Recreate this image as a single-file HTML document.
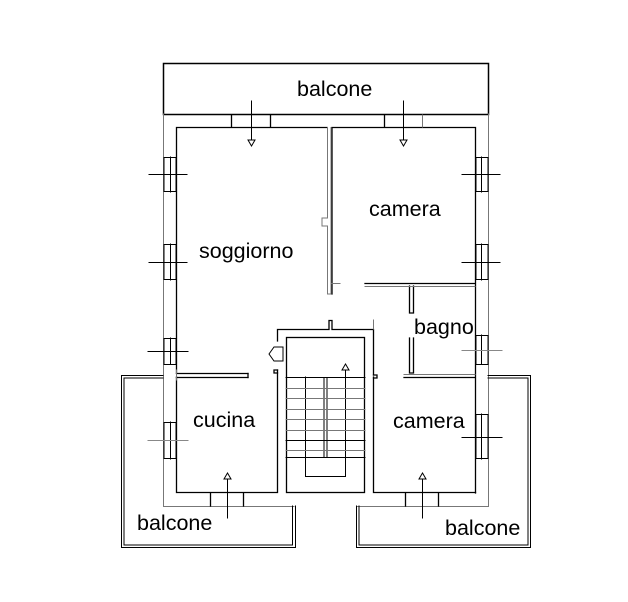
<!DOCTYPE html>
<html><head><meta charset="utf-8"><style>
html,body{margin:0;padding:0;background:#fff;width:628px;height:602px;overflow:hidden}
svg{display:block}
text{font-family:"Liberation Sans",sans-serif;font-size:21.5px;fill:#000}
</style></head><body>
<svg width="628" height="602" viewBox="0 0 628 602" xmlns="http://www.w3.org/2000/svg">
<g fill="none" stroke-linecap="square">
<rect x="163.5" y="63.5" width="325" height="51" stroke="#000" stroke-width="1.5"/>
<g stroke="#777" stroke-width="1">
<line x1="163.5" y1="114" x2="163.5" y2="506"/>
<line x1="488.5" y1="114" x2="488.5" y2="506"/>
<line x1="163.5" y1="506.5" x2="294" y2="506.5"/>
<line x1="357" y1="506.5" x2="488.5" y2="506.5"/>
</g>
<g stroke="#000" stroke-width="1.3">
<polyline points="327,127.5 176.5,127.5 176.5,373"/>
<polyline points="332,294 332,127.5 475.5,127.5 475.5,493"/>
<line x1="365" y1="283.5" x2="475" y2="283.5"/>
<line x1="404" y1="377.5" x2="475" y2="377.5"/>
<polyline points="176.5,377 176.5,492.5 277.5,492.5 277.5,370"/>
<polyline points="373.5,377 373.5,492.5 475.5,492.5"/>
<line x1="176.5" y1="373.5" x2="248" y2="373.5"/>
<line x1="176.5" y1="377.5" x2="248" y2="377.5"/>
<line x1="248" y1="373.5" x2="248" y2="377.5"/>
<rect x="286.5" y="337.5" width="78" height="155"/>
<polyline points="277.5,341 277.5,329.5 329,329.5 329,320.5 332,320.5 332,329.5 373.5,329.5 373.5,375"/>
<polyline points="373.5,375 377,375 377,378 373.5,378"/>
<polyline points="277.5,370 274,370 274,373 277.5,373"/>
<polyline points="409.5,286 409.5,313 413.5,313 413.5,286"/>
<polyline points="409.5,338 409.5,373 413.5,373 413.5,338"/>
<line x1="231.5" y1="115" x2="231.5" y2="127"/><line x1="270.5" y1="115" x2="270.5" y2="127"/>
<line x1="384.5" y1="115" x2="384.5" y2="127"/>
<line x1="210.5" y1="493" x2="210.5" y2="506"/><line x1="243.5" y1="493" x2="243.5" y2="506"/>
<line x1="405.5" y1="493" x2="405.5" y2="506"/><line x1="438.5" y1="493" x2="438.5" y2="506"/>
</g>
<g stroke="#777" stroke-width="1">
<line x1="422.5" y1="115" x2="422.5" y2="127"/>
<polyline points="327.5,127.5 327.5,218 322,218 322,226 327.5,226 327.5,294 331,294 331,283.5 340,283.5"/>
<line x1="331" y1="127.5" x2="331" y2="283"/>
<line x1="365" y1="286.5" x2="475" y2="286.5"/>
<line x1="404" y1="374.5" x2="475" y2="374.5"/>
<line x1="176.5" y1="370" x2="176.5" y2="380"/>
<line x1="373.5" y1="320" x2="373.5" y2="329"/>
</g>
<g stroke="#000" stroke-width="1">
<rect x="164" y="157.5" width="12" height="34"/><line x1="170.5" y1="157" x2="170.5" y2="192"/><line x1="149" y1="174.5" x2="187" y2="174.5"/>
<rect x="164" y="244.5" width="12" height="35"/><line x1="170.5" y1="244" x2="170.5" y2="280"/><line x1="149" y1="262.5" x2="187" y2="262.5"/>
<rect x="164" y="338.5" width="12" height="26"/><line x1="170.5" y1="338" x2="170.5" y2="364"/><line x1="148" y1="351.5" x2="188" y2="351.5"/>
<rect x="164" y="422.5" width="12" height="36"/><line x1="170.5" y1="422" x2="170.5" y2="459"/>
<rect x="476" y="157.5" width="12" height="34"/><line x1="481.5" y1="157" x2="481.5" y2="192"/><line x1="462" y1="174.5" x2="500" y2="174.5"/>
<rect x="476" y="244.5" width="12" height="35"/><line x1="481.5" y1="244" x2="481.5" y2="280"/><line x1="462" y1="262.5" x2="500" y2="262.5"/>
<rect x="476" y="335.5" width="12" height="29"/><line x1="481.5" y1="335" x2="481.5" y2="364"/>
<rect x="476" y="414.5" width="12" height="44"/><line x1="481.5" y1="414" x2="481.5" y2="459"/><line x1="462" y1="437.5" x2="502" y2="437.5"/>
</g>
<g stroke="#888" stroke-width="1">
<line x1="148" y1="440.5" x2="188" y2="440.5"/>
<line x1="462" y1="350.5" x2="502" y2="350.5"/>
</g>
<g stroke="#000" stroke-width="1">
<polyline points="163,375.5 121.5,375.5 121.5,547.5 295.5,547.5 295.5,506"/>
<polyline points="163,378 124,378 124,545 292.5,545 292.5,506"/>
<polyline points="488,375.5 530.5,375.5 530.5,547.5 356.5,547.5 356.5,506"/>
<polyline points="488,378 528,378 528,545 359,545 359,506"/>
</g>
<g stroke="#000" stroke-width="1">
<line x1="286" y1="377.5" x2="365" y2="377.5"/>
<line x1="286" y1="440.5" x2="365" y2="440.5"/>
<line x1="286" y1="457.5" x2="365" y2="457.5"/>
<line x1="305.5" y1="377" x2="305.5" y2="476"/>
<polyline points="305.5,476.5 345.5,476.5 345.5,370"/>
<rect x="324" y="377.5" width="3" height="80"/>
</g>
<g stroke="#777" stroke-width="1">
<line x1="286" y1="388.5" x2="365" y2="388.5"/>
<line x1="286" y1="398.5" x2="365" y2="398.5"/>
<line x1="286" y1="409.5" x2="365" y2="409.5"/>
<line x1="286" y1="419.5" x2="365" y2="419.5"/>
<line x1="286" y1="430.5" x2="365" y2="430.5"/>
<line x1="286" y1="450.5" x2="365" y2="450.5"/>
</g>
<polygon points="345.5,364 342,370 349,370" fill="#fff" stroke="#000"/>
<polygon points="269,354 274,347 283,347 283,361 274,361" fill="#fff" stroke="#000"/>
<g stroke="#000" stroke-width="1">
<line x1="251.5" y1="101" x2="251.5" y2="140"/>
<polygon points="248,140 255,140 251.5,146" fill="#fff"/>
<line x1="403.5" y1="101" x2="403.5" y2="140"/>
<polygon points="400,140 407,140 403.5,146" fill="#fff"/>
<line x1="227.5" y1="479" x2="227.5" y2="518"/>
<polygon points="224,479 231,479 227.5,473" fill="#fff"/>
<line x1="422.5" y1="479" x2="422.5" y2="518"/>
<polygon points="419,479 426,479 422.5,473" fill="#fff"/>
</g>
</g>
<text x="297" y="96">balcone</text>
<text x="369" y="216">camera</text>
<text x="199" y="258">soggiorno</text>
<text x="414" y="334">bagno</text>
<text x="193" y="427">cucina</text>
<text x="393" y="428">camera</text>
<text x="137" y="530">balcone</text>
<text x="445" y="535">balcone</text>
</svg>
</body></html>
